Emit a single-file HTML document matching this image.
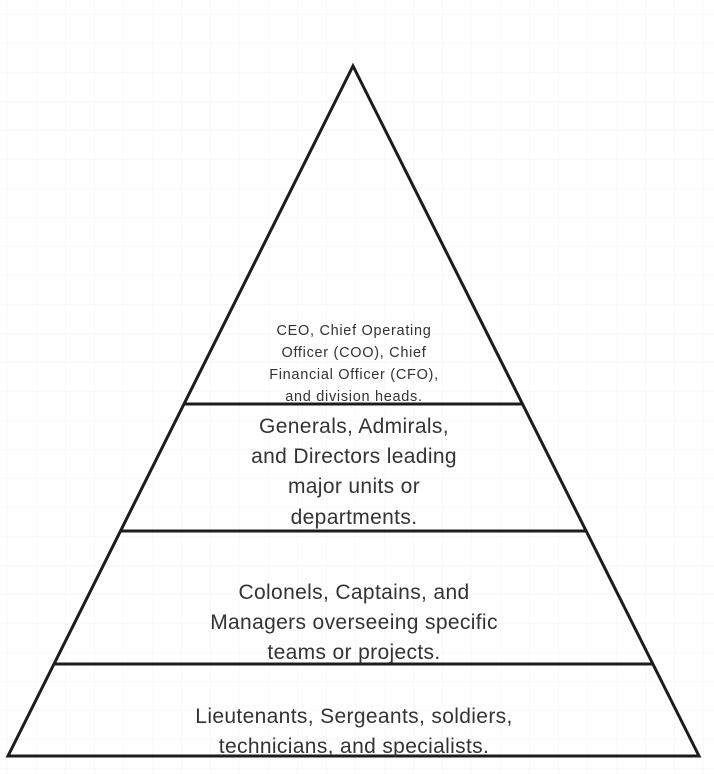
<!DOCTYPE html>
<html><head><meta charset="utf-8"><style>
html,body{margin:0;padding:0;background:#fff;}
svg{display:block;}
text{font-family:"Liberation Sans","DejaVu Sans",sans-serif;fill:#333;text-anchor:middle;}
</style></head><body>
<svg width="714" height="774" viewBox="0 0 714 774" xmlns="http://www.w3.org/2000/svg">
<defs>
<pattern id="g" x="7" y="14" width="29" height="29" patternUnits="userSpaceOnUse">
<path d="M0 0H29M0 0V29" stroke="#f3f3f3" stroke-width="1" fill="none"/>
</pattern>
</defs>
<rect width="714" height="774" fill="url(#g)"/>
<g stroke="#1c1c1c" stroke-width="3" fill="none" stroke-linejoin="miter">
<polygon points="353,66 8,756 699,756"/>
<line x1="185" y1="404" x2="522" y2="404"/>
<line x1="121" y1="531" x2="585" y2="531"/>
<line x1="55" y1="664" x2="652" y2="664"/>
</g>
<g font-size="14.5" letter-spacing="0.7">
<text x="354" y="335">CEO, Chief Operating</text>
<text x="354" y="357">Officer (COO), Chief</text>
<text x="354" y="379">Financial Officer (CFO),</text>
<text x="354" y="401">and division heads.</text>
</g>
<g font-size="21" letter-spacing="0.35">
<text x="354" y="433">Generals, Admirals,</text>
<text x="354" y="463">and Directors leading</text>
<text x="354" y="493">major units or</text>
<text x="354" y="524">departments.</text>
<text x="354" y="599">Colonels, Captains, and</text>
<text x="354" y="629">Managers overseeing specific</text>
<text x="354" y="659">teams or projects.</text>
<text x="354" y="723">Lieutenants, Sergeants, soldiers,</text>
<text x="354" y="753">technicians, and specialists.</text>
</g>
</svg>
</body></html>
